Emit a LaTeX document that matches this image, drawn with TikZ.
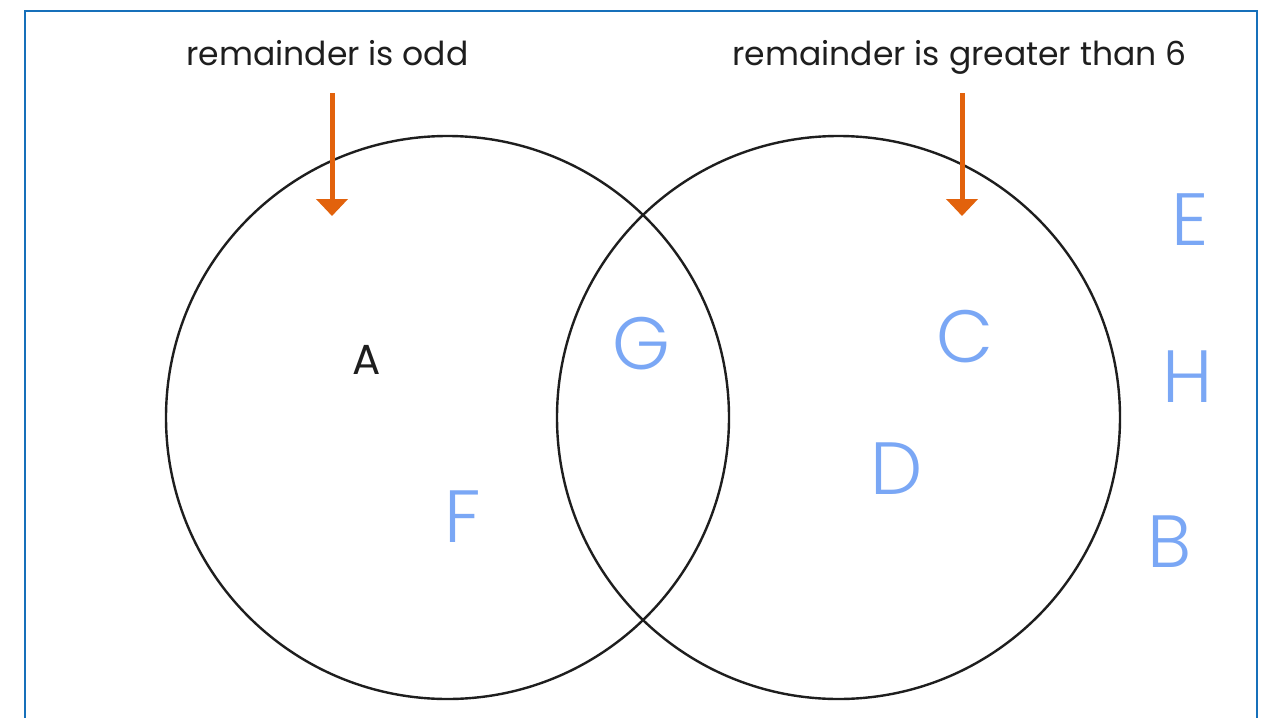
\documentclass[tikz,border=0pt]{standalone}
\usepackage{fontspec}
\setmainfont{Poppins}
\newfontfamily\handfont[UprightFont=* Light]{Poppins}
\usetikzlibrary{arrows.meta}
\definecolor{frameblue}{RGB}{22,112,186}
\definecolor{arroworange}{RGB}{226,98,12}
\definecolor{handblue}{RGB}{122,167,245}
\definecolor{inkblack}{RGB}{30,30,30}
\begin{document}
\begin{tikzpicture}[x=1pt,y=-1pt,
  settitle/.style={font=\fontsize{33}{38}\selectfont, text=inkblack, inner sep=0pt, anchor=base},
  setcircle/.style={draw=inkblack, line width=2.4pt, circle, minimum size=563pt, inner sep=0pt},
  pointer/.style={draw=arroworange, line width=5pt, -{Triangle[width=31pt,length=17pt]}},
  handletter/.style={font=\handfont\fontsize{74}{78}\selectfont, text=handblue, inner sep=0pt},
  plainletter/.style={font=\fontsize{42}{46}\selectfont, text=inkblack, inner sep=0pt}]
\useasboundingbox (0,0) rectangle (1265,717);
\fill[white] (0,0) rectangle (1265,717);
\draw[frameblue, line width=2.2pt] (25,740) -- (25,11) -- (1257,11) -- (1257,740);
\node[setcircle] (left) at (447.5,417.5) {};
\node[setcircle] (right) at (838.5,417.5) {};
\node[settitle] (t1) at (327.5,65) {remainder is odd};
\node[settitle] (t2) at (959.5,65) {remainder is greater than 6};
\coordinate (a1s) at (332,93);
\coordinate (a1e) at (332,216);
\coordinate (a2s) at (962,93);
\coordinate (a2e) at (962,216);
\draw[pointer] (a1s) -- (a1e);
\draw[pointer] (a2s) -- (a2e);
\node[plainletter] (A) at (367,360) {A};
\node[handletter] (G) at (641,344) {G};
\node[handletter] (F) at (463,517) {F};
\node[handletter] (C) at (965,337) {C};
\node[handletter] (D) at (897,469) {D};
\node[handletter] (E) at (1190,220) {E};
\node[handletter] (H) at (1188,377) {H};
\node[handletter] (B) at (1170,542) {B};
\end{tikzpicture}
\end{document}
